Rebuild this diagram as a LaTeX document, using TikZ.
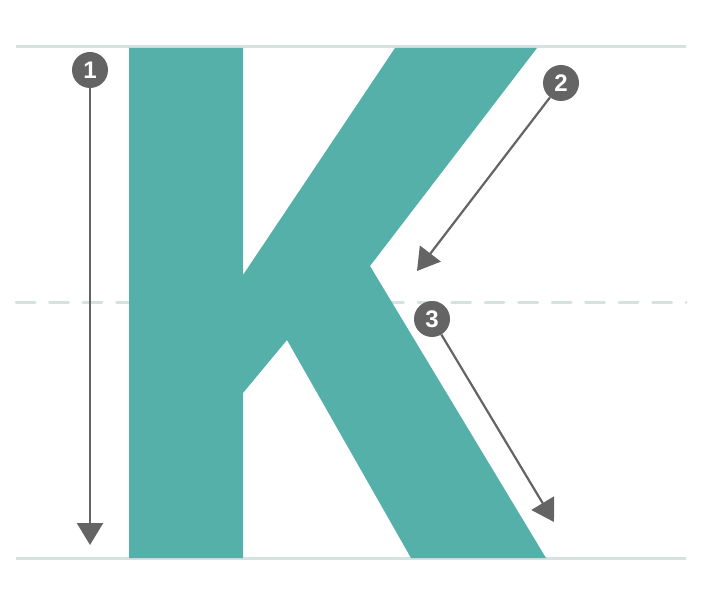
\documentclass[tikz,border=0pt]{standalone}
\usepackage{fontspec}
\setmainfont{Liberation Sans}
\usetikzlibrary{arrows.meta}
\definecolor{kteal}{HTML}{54B0A8}
\definecolor{guide}{HTML}{D4E3E0}
\definecolor{mark}{HTML}{646464}
\tikzset{
  guideline/.style={draw=guide,line width=3pt},
  dashguide/.style={draw=guide,line width=3pt,line cap=round,dash pattern=on 19pt off 14.5pt},
  numcirc/.style={circle,fill=mark,inner sep=0pt,minimum size=36pt,text=white,font=\bfseries\fontsize{24pt}{24pt}\selectfont},
  arr/.style={draw=mark,line width=2.2pt,-{Triangle[length=22pt,width=26pt]}},
}
\begin{document}
\begin{tikzpicture}[x=1pt,y=-1pt]
\useasboundingbox (0,0) rectangle (704,604);
\draw[guideline] (16,47) -- (686,47);
\draw[guideline] (16,558) -- (686,558);
\draw[dashguide] (16,302) -- (686,302);
\fill[kteal] (129,48) -- (243,48) -- (243,275) -- (395,48) -- (537,48) -- (370,266) -- (546,558) -- (411,558) -- (287,340) -- (243,393) -- (243,558) -- (129,558) -- cycle;
\node[numcirc] (n1) at (90,70) {1};
\node[numcirc] (n2) at (561,83) {2};
\node[numcirc] (n3) at (432,319) {3};
\coordinate (t1) at (90,545);
\coordinate (t2) at (417,271);
\coordinate (t3) at (554,522);
\draw[arr] (n1) -- (t1);
\draw[arr] (n2) -- (t2);
\draw[arr] (n3) -- (t3);
\end{tikzpicture}
\end{document}
